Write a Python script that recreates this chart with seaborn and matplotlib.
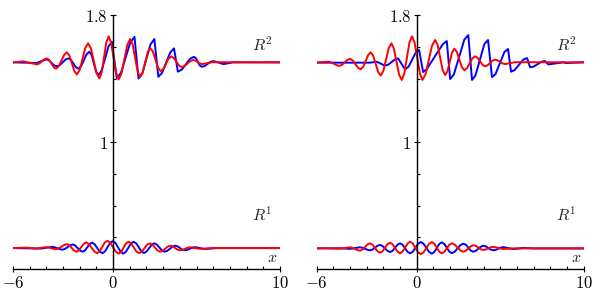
import numpy as np
import pandas as pd
import matplotlib
matplotlib.use("Agg")
import matplotlib.pyplot as plt
from matplotlib.ticker import MultipleLocator
import seaborn as sns

# ---- values (x, y) ----
# left panel, R^2 band
l_r2_red_x = [-6, -5.37, -4.57, -4.42, -4.12, -3.97, -3.83, -3.56, -3.42, -3.26, -2.93, -2.77, -2.62, -2.32,
              -2.17, -2.00, -1.67, -1.50, -1.33, -0.99, -0.82, -0.68, -0.41, -0.27, -0.12, 0.18, 0.33, 0.50,
              0.85, 1.02, 1.17, 1.47, 1.62, 1.77, 2.07, 2.22, 2.38, 2.69, 2.85, 3.01, 3.32, 3.48, 3.64, 3.95,
              4.10, 4.28, 4.63, 4.81, 4.94, 5.20, 5.33, 5.93, 10]
l_r2_red_y = [1.502, 1.508, 1.489, 1.495, 1.521, 1.527, 1.517, 1.471, 1.462, 1.477, 1.550, 1.565, 1.545, 1.446,
              1.426, 1.455, 1.593, 1.622, 1.590, 1.433, 1.401, 1.440, 1.627, 1.666, 1.626, 1.434, 1.394, 1.431,
              1.612, 1.649, 1.614, 1.444, 1.409, 1.436, 1.565, 1.592, 1.571, 1.468, 1.447, 1.460, 1.526, 1.539,
              1.529, 1.482, 1.472, 1.479, 1.510, 1.517, 1.513, 1.495, 1.491, 1.503, 1.502]
l_r2_blue_x = [-6, -4.6, -4.01, -3.85, -3.53, -3.37, -3.20, -2.85, -2.68, -2.53, -2.23, -2.08, -1.92, -1.59,
               -1.42, -1.29, -1.02, -0.88, -0.68, -0.28, -0.08, 0.22, 0.48, 1.02, 1.28, 1.52, 1.76, 2.23,
               2.47, 2.71, 2.94, 3.42, 3.65, 3.88, 4.12, 4.60, 4.84, 4.96, 5.19, 5.31, 5.49, 5.83, 6.01,
               6.61, 7.19, 10]
l_r2_blue_y = [1.502, 1.498, 1.521, 1.515, 1.483, 1.477, 1.484, 1.520, 1.527, 1.518, 1.471, 1.462, 1.478, 1.553,
               1.569, 1.548, 1.443, 1.422, 1.453, 1.601, 1.632, 1.401, 1.439, 1.625, 1.663, 1.400, 1.436, 1.613,
               1.649, 1.411, 1.437, 1.564, 1.590, 1.443, 1.457, 1.523, 1.537, 1.528, 1.483, 1.474, 1.479, 1.505,
               1.510, 1.491, 1.502, 1.502]
# left panel, R^1 band
l_r1_red_x = [-6, -5.2, -4.6, -4.01, -3.86, -3.57, -3.42, -3.26, -2.93, -2.77, -2.63, -2.34, -2.19, -2.05,
              -1.76, -1.62, -1.46, -1.12, -0.96, -0.81, -0.50, -0.34, -0.17, 0.16, 0.33, 0.48, 0.77, 0.92,
              1.08, 1.40, 1.56, 1.72, 2.03, 2.19, 2.35, 2.66, 2.82, 2.97, 3.27, 3.42, 3.57, 3.86, 4.01, 4.16,
              4.46, 4.61, 5.21, 5.9, 10]
l_r1_red_y = [.332, .335, .329, .338, .336, .327, .325, .330, .352, .357, .350, .316, .309, .318, .359, .368,
              .358, .310, .300, .311, .367, .378, .366, .309, .297, .308, .361, .372, .361, .310, .300, .309,
              .353, .362, .354, .317, .309, .315, .341, .347, .343, .322, .318, .321, .334, .337, .327, .332, .332]
l_r1_blue_x = [-6, -4.3, -3.65, -3.50, -3.18, -3.03, -2.88, -2.57, -2.41, -2.27, -1.98, -1.83, -1.69, -1.40,
               -1.26, -1.11, -0.80, -0.64, -0.49, -0.18, -0.02, 0.14, 0.45, 0.60, 0.76, 1.07, 1.22, 1.38, 1.69,
               1.84, 2.00, 2.31, 2.46, 2.62, 2.93, 3.09, 3.25, 3.56, 3.71, 3.86, 4.15, 4.30, 4.45, 4.75, 4.90,
               5.50, 6.2, 10]
l_r1_blue_y = [.332, .329, .340, .337, .325, .322, .327, .350, .355, .348, .316, .309, .317, .358, .366, .356,
               .310, .300, .311, .365, .376, .364, .309, .297, .308, .361, .372, .362, .311, .301, .310, .353,
               .362, .354, .317, .309, .315, .341, .347, .343, .322, .318, .321, .335, .338, .326, .332, .332]

# right panel, R^2 band
r_r2_red_x = [-6, -5.30, -5.14, -4.80, -4.64, -4.48, -4.16, -4.00, -3.84, -3.52, -3.36, -3.21, -2.91, -2.76,
              -2.61, -2.31, -2.16, -2.00, -1.68, -1.52, -1.37, -1.06, -0.90, -0.75, -0.44, -0.28, -0.13, 0.19,
              0.34, 0.53, 0.91, 1.10, 1.25, 1.55, 1.70, 1.84, 2.11, 2.25, 2.40, 2.70, 2.85, 3.01, 3.33, 3.49,
              3.64, 3.94, 4.09, 4.24, 4.54, 4.69, 4.84, 5.14, 5.29, 5.9, 10]
r_r2_red_y = [1.502, 1.506, 1.502, 1.484, 1.480, 1.486, 1.518, 1.524, 1.514, 1.468, 1.458, 1.474, 1.549, 1.565,
              1.544, 1.440, 1.419, 1.449, 1.592, 1.622, 1.588, 1.425, 1.391, 1.431, 1.626, 1.666, 1.626, 1.431,
              1.391, 1.428, 1.606, 1.643, 1.611, 1.454, 1.422, 1.446, 1.564, 1.588, 1.568, 1.472, 1.452, 1.465,
              1.527, 1.540, 1.531, 1.486, 1.477, 1.483, 1.513, 1.519, 1.515, 1.495, 1.491, 1.503, 1.502]
r_r2_blue_x = [-6, -2.8, -2.4, -1.9, -1.70, -1.32, -1.12, -0.70, -0.49, -0.07, 0.14, 0.38, 0.60, 1.55, 1.80,
               2.00, 2.22, 2.85, 3.09, 3.31, 3.52, 4.05, 4.27, 4.51, 4.72, 5.25, 5.47, 5.65, 5.86, 6.39, 6.61,
               6.79, 7.00, 7.48, 7.69, 7.88, 8.77, 8.95, 10]
r_r2_blue_y = [1.500, 1.500, 1.506, 1.481, 1.488, 1.520, 1.527, 1.457, 1.475, 1.562, 1.580, 1.441, 1.460, 1.615,
               1.636, 1.397, 1.425, 1.645, 1.674, 1.391, 1.420, 1.617, 1.643, 1.409, 1.428, 1.567, 1.586, 1.443,
               1.453, 1.520, 1.529, 1.471, 1.475, 1.506, 1.510, 1.489, 1.502, 1.498, 1.502]
# right panel, R^1 band
r_r1_red_x = [-6, -5.6, -4.6, -4.00, -3.85, -3.55, -3.40, -3.25, -2.95, -2.80, -2.65, -2.35, -2.20, -2.05,
              -1.75, -1.60, -1.45, -1.15, -1.00, -0.85, -0.55, -0.40, -0.24, 0.08, 0.24, 0.41, 0.74, 0.90,
              1.05, 1.35, 1.50, 1.65, 1.95, 2.10, 2.27, 2.62, 2.79, 2.94, 3.24, 3.39, 3.54, 3.84, 3.99, 4.14,
              4.44, 4.59, 5.17, 5.8, 10]
r_r1_red_y = [.330, .331, .328, .337, .334, .319, .316, .323, .355, .362, .353, .312, .303, .312, .357, .366,
              .356, .309, .299, .310, .361, .372, .361, .305, .294, .305, .359, .370, .360, .309, .299, .308,
              .353, .362, .354, .317, .309, .315, .344, .350, .346, .324, .320, .323, .337, .340, .326, .330, .330]
r_r1_blue_x = [-6, -4.6, -4.00, -3.40, -3.25, -2.95, -2.80, -2.65, -2.35, -2.20, -2.05, -1.75, -1.60, -1.45,
               -1.15, -1.00, -0.85, -0.55, -0.40, -0.24, 0.08, 0.24, 0.41, 0.74, 0.90, 1.05, 1.35, 1.50, 1.65,
               1.95, 2.10, 2.27, 2.62, 2.79, 2.94, 3.24, 3.39, 3.54, 3.84, 3.99, 4.14, 4.44, 4.59, 4.74, 5.02,
               5.17, 5.80, 6.40, 7.0, 10]
r_r1_blue_y = [.330, .331, .327, .337, .334, .321, .318, .323, .347, .352, .345, .314, .307, .315, .354, .362,
               .353, .308, .299, .309, .360, .370, .359, .308, .297, .307, .358, .368, .358, .310, .300, .309,
               .351, .360, .353, .316, .309, .315, .341, .347, .343, .322, .318, .321, .335, .338, .326, .333,
               .330, .330]

panels = [
    [(l_r2_blue_x, l_r2_blue_y, 'blue'), (l_r1_blue_x, l_r1_blue_y, 'blue'),
     (l_r2_red_x, l_r2_red_y, 'red'), (l_r1_red_x, l_r1_red_y, 'red')],
    [(r_r2_blue_x, r_r2_blue_y, 'blue'), (r_r1_blue_x, r_r1_blue_y, 'blue'),
     (r_r2_red_x, r_r2_red_y, 'red'), (r_r1_red_x, r_r1_red_y, 'red')],
]

sns.set_theme(style="white")
plt.rcParams['mathtext.fontset'] = 'cm'
plt.rcParams['font.family'] = ['DejaVu Serif']

fig = plt.figure(figsize=(6.02, 2.95), dpi=100)
lefts = [0.0216, 0.526]
colors = {'blue': '#0000ff', 'red': '#ff0000'}

for left, curves in zip(lefts, panels):
    ax = fig.add_axes([left, 0.088, 0.4435, 0.861])
    for xs, ys, c in curves:
        df = pd.DataFrame({'x': xs, 'y': ys})
        sns.lineplot(data=df, x='x', y='y', ax=ax, color=colors[c], lw=1.4,
                     sort=False, estimator=None)
    ax.set_xlim(-6, 10)
    ax.set_ylim(0.2, 1.8)
    ax.spines['top'].set_visible(False)
    ax.spines['right'].set_visible(False)
    ax.spines['left'].set_position(('data', 0))
    for s in ['left', 'bottom']:
        ax.spines[s].set_color('black')
        ax.spines[s].set_linewidth(1.0)
    ax.set_xticks([-6, 0, 10])
    ax.set_xticklabels([r'$-6$', r'$0$', r'$10$'])
    ax.xaxis.set_minor_locator(MultipleLocator(1))
    ax.set_yticks([1, 1.8])
    ax.set_yticklabels([r'$1$', r'$1.8$'])
    ax.yaxis.set_minor_locator(MultipleLocator(0.2))
    ax.tick_params(which='major', direction='inout', length=4, width=0.8,
                   colors='black', labelsize=12, pad=2,
                   left=True, bottom=True)
    ax.tick_params(which='minor', direction='in', length=2.5, width=0.8,
                   colors='black', left=True, bottom=True)
    ax.set_xlabel('')
    ax.set_ylabel('')
    ax.text(8.95, 1.61, r'$R^2$', fontsize=11.5, ha='center', va='center')
    ax.text(8.95, 0.54, r'$R^1$', fontsize=11.5, ha='center', va='center')
    ax.text(9.55, 0.27, r'$x$', fontsize=11.5, ha='center', va='center')

fig.savefig('out.png', dpi=100)
